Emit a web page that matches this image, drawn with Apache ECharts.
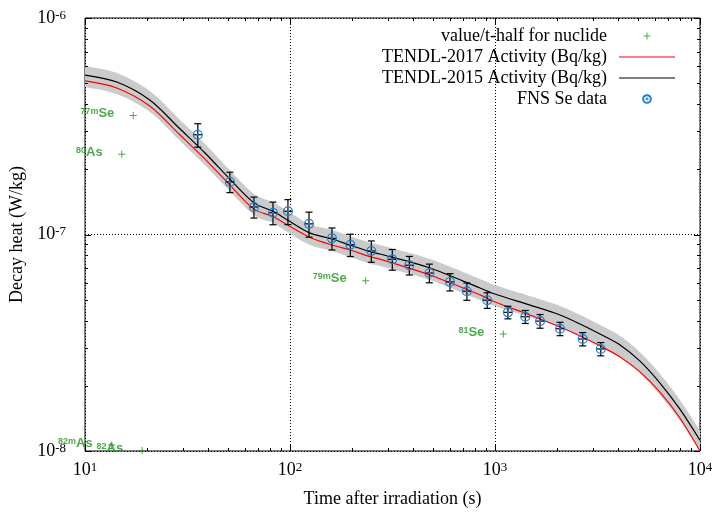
<!DOCTYPE html>
<html><head><meta charset="utf-8">
<script src="https://cdn.jsdelivr.net/npm/echarts@6/dist/echarts.min.js"></script>
<style>html,body{margin:0;padding:0;background:#fff}#c{width:714px;height:512px}</style>
</head><body><div id="c"></div>
<script>
// ---- data ----
const times = [10, 14.3, 20.7, 29.1, 38.5, 50.4, 66.7, 82.6, 96.7, 123.8, 160.2, 196.2, 248.5, 274.6, 482, 845, 1000, 1483, 2076, 2600, 3253, 4074, 5097, 6380, 7980, 10000];
const tendl2015 = [5.45e-7, 5.06e-7, 4.18e-7, 3.07e-7, 2.38e-7, 1.82e-7, 1.40e-7, 1.28e-7, 1.17e-7, 1.02e-7, 9.53e-8, 8.94e-8, 8.30e-8, 8.13e-8, 7.00e-8, 5.66e-8, 5.31e-8, 4.72e-8, 4.25e-8, 3.86e-8, 3.47e-8, 3.09e-8, 2.60e-8, 2.06e-8, 1.56e-8, 1.12e-8];
const tendl2015Upper = [6.00e-7, 5.57e-7, 4.60e-7, 3.38e-7, 2.62e-7, 2.00e-7, 1.54e-7, 1.41e-7, 1.29e-7, 1.12e-7, 1.05e-7, 9.83e-8, 9.13e-8, 8.94e-8, 7.70e-8, 6.23e-8, 5.84e-8, 5.19e-8, 4.68e-8, 4.25e-8, 3.82e-8, 3.40e-8, 2.86e-8, 2.27e-8, 1.72e-8, 1.24e-8];
const tendl2015Lower = [4.80e-7, 4.45e-7, 3.68e-7, 2.70e-7, 2.09e-7, 1.60e-7, 1.23e-7, 1.13e-7, 1.03e-7, 8.98e-8, 8.39e-8, 7.87e-8, 7.30e-8, 7.15e-8, 6.16e-8, 4.98e-8, 4.67e-8, 4.15e-8, 3.74e-8, 3.40e-8, 3.05e-8, 2.72e-8, 2.29e-8, 1.81e-8, 1.38e-8, 9.9e-9];
const tendl2017 = [5.12e-7, 4.75e-7, 3.92e-7, 2.88e-7, 2.23e-7, 1.71e-7, 1.31e-7, 1.21e-7, 1.11e-7, 9.74e-8, 8.94e-8, 8.48e-8, 7.87e-8, 7.70e-8, 6.50e-8, 5.26e-8, 4.88e-8, 4.25e-8, 3.74e-8, 3.40e-8, 3.06e-8, 2.72e-8, 2.32e-8, 1.87e-8, 1.42e-8, 1.00e-8];

const fnsTimes  = [35.5, 50.9, 66.7, 82.6, 97.7, 123.8, 160.2, 196.9, 249.3, 315.5, 382, 478.6, 603, 729, 916, 1156, 1405, 1659, 2076, 2678, 3280];
const fnsValues = [2.89e-7, 1.75e-7, 1.34e-7, 1.26e-7, 1.28e-7, 1.12e-7, 9.60e-8, 8.97e-8, 8.39e-8, 7.68e-8, 7.21e-8, 6.64e-8, 6.04e-8, 5.47e-8, 4.97e-8, 4.37e-8, 4.17e-8, 3.98e-8, 3.67e-8, 3.29e-8, 2.96e-8];
const fnsErrors = [3.58e-8, 1.89e-8, 1.49e-8, 1.51e-8, 1.69e-8, 1.48e-8, 1.12e-8, 1.06e-8, 9.46e-9, 8.42e-9, 7.11e-9, 6.57e-9, 5.53e-9, 5.03e-9, 4.12e-9, 2.92e-9, 2.88e-9, 2.90e-9, 2.61e-9, 2.32e-9, 2.09e-9];

const nuclideTimes  = [13.5, 15.1, 17.2, 19.0, 234, 1098];
const nuclideValues = [1.065e-8, 2.35e-7, 3.55e-7, 1.005e-8, 6.12e-8, 3.47e-8];
const nuclideMass   = ['82m', '80', '77m', '82', '79m', '81'];
const nuclideElem   = ['As', 'As', 'Se', 'As', 'Se', 'Se'];

const xMajorTicks = [10, 100, 1000, 10000];
const xTickExponents = ['1', '2', '3', '4'];
const xMinorTicks = [20, 30, 40, 50, 60, 70, 80, 90, 200, 300, 400, 500, 600, 700, 800, 900, 2000, 3000, 4000, 5000, 6000, 7000, 8000, 9000];
const yMajorTicks = [1e-8, 1e-7, 1e-6];
const yTickExponents = ['-8', '-7', '-6'];
const yMinorTicks = [2e-8, 3e-8, 4e-8, 5e-8, 6e-8, 7e-8, 8e-8, 9e-8, 2e-7, 3e-7, 4e-7, 5e-7, 6e-7, 7e-7, 8e-7, 9e-7];

const seriesNames = ['value/t-half for nuclide', 'TENDL-2017 Activity (Bq/kg)', 'TENDL-2015 Activity (Bq/kg)', 'FNS Se data'];
const xTitle = 'Time after irradiation (s)';
const yTitle = 'Decay heat (W/kg)';

// ---- styling ----
const X_MIN = 10, X_MAX = 10000, Y_MIN = 1e-8, Y_MAX = 1e-6;
const SERIF = 'Liberation Serif';
const SANS = 'Liberation Sans';
const GREEN = '#1f941f';
const BLUE = '#1f7fd0';
const RED = '#ff0000';

function labelFmt(ticks, exps) {
  return function (v) {
    let idx = 0, best = Infinity;
    ticks.forEach((t, i) => { const d = Math.abs(Math.log10(t) - Math.log10(v)); if (d < best) { best = d; idx = i; } });
    return '{b|10}{s|' + exps[idx] + '}';
  };
}
const tickRich = {
  b: { fontFamily: SERIF, fontSize: 18, lineHeight: 18, verticalAlign: 'bottom', color: '#000' },
  s: { fontFamily: SERIF, fontSize: 13, lineHeight: 13, padding: [0, 0, 11, 0], verticalAlign: 'top', color: '#000' }
};

function tickSeries(values, isX, len) {
  return {
    type: 'custom', silent: true, z: 6, clip: false,
    data: values.map(v => isX ? [v, Y_MIN] : [X_MIN, v]),
    encode: { x: 0, y: 1 },
    renderItem: function (params, api) {
      const st = { stroke: '#000', lineWidth: 1 };
      if (isX) {
        const v = api.value(0);
        const pb = api.coord([v, Y_MIN]), pt = api.coord([v, Y_MAX]);
        const x = Math.round(pb[0]) + 0.5;
        return { type: 'group', children: [
          { type: 'line', shape: { x1: x, y1: pb[1], x2: x, y2: pb[1] - len }, style: st },
          { type: 'line', shape: { x1: x, y1: pt[1], x2: x, y2: pt[1] + len }, style: st }
        ] };
      } else {
        const v = api.value(1);
        const pl = api.coord([X_MIN, v]), pr = api.coord([X_MAX, v]);
        const y = Math.round(pl[1]) + 0.5;
        return { type: 'group', children: [
          { type: 'line', shape: { x1: pl[0], y1: y, x2: pl[0] + len, y2: y }, style: st },
          { type: 'line', shape: { x1: pr[0], y1: y, x2: pr[0] - len, y2: y }, style: st }
        ] };
      }
    }
  };
}

// Catmull-Rom resampling of pixel points (rendering only)
function smoothPts(pts, n) {
  const out = [];
  for (let i = 0; i < pts.length - 1; i++) {
    const p0 = pts[Math.max(i - 1, 0)], p1 = pts[i], p2 = pts[i + 1], p3 = pts[Math.min(i + 2, pts.length - 1)];
    for (let k = 0; k < n; k++) {
      const t = k / n, t2 = t * t, t3 = t2 * t;
      const f = (a, b, c, d) => 0.5 * ((2 * b) + (-a + c) * t + (2 * a - 5 * b + 4 * c - d) * t2 + (-a + 3 * b - 3 * c + d) * t3);
      out.push([f(p0[0], p1[0], p2[0], p3[0]), f(p0[1], p1[1], p2[1], p3[1])]);
    }
  }
  out.push(pts[pts.length - 1]);
  return out;
}

const plusPath = 'path://M-1.5 -1.5L-1.5 -1.5M8.5 8.5L8.5 8.5M0 3H7V4H0Z M3 0H4V7H3Z';
const circDotPath = 'path://M-6.5,-6.5L-6.5,-6.5M6.5,6.5L6.5,6.5M0,-5A5,5 0 1,1 0,5A5,5 0 1,1 0,-5Z M0,-0.6A0.6,0.6 0 1,1 0,0.6A0.6,0.6 0 1,1 0,-0.6Z';
const linePath = 'path://M0 0H100V2.2H0Z';

const chart = echarts.init(document.getElementById('c'), null, { renderer: 'canvas' });
chart.setOption({
  animation: false,
  backgroundColor: '#fff',
  grid: { left: 85, right: 14, top: 18, bottom: 61, show: true, borderColor: '#000', borderWidth: 1, backgroundColor: 'transparent', outerBoundsMode: 'none', containLabel: false },
  xAxis: {
    type: 'log', logBase: 10, min: X_MIN, max: X_MAX,
    axisLine: { show: false }, axisTick: { show: false }, minorTick: { show: false },
    splitLine: { show: true, lineStyle: { color: '#000', width: 1, type: [1, 2] } },
    axisLabel: { formatter: labelFmt(xMajorTicks, xTickExponents), rich: tickRich, margin: 10 },
    name: xTitle, nameLocation: 'middle', nameGap: 37,
    nameTextStyle: { fontFamily: SERIF, fontSize: 18, color: '#000' }
  },
  yAxis: {
    type: 'log', logBase: 10, min: Y_MIN, max: Y_MAX,
    axisLine: { show: false }, axisTick: { show: false }, minorTick: { show: false },
    splitLine: { show: true, lineStyle: { color: '#000', width: 1, type: [1, 2] } },
    axisLabel: { formatter: labelFmt(yMajorTicks, yTickExponents), rich: tickRich, margin: 19 },
    name: yTitle, nameLocation: 'middle', nameGap: 57, nameRotate: 90,
    nameTextStyle: { fontFamily: SERIF, fontSize: 18, color: '#000' }
  },
  legend: {
    orient: 'vertical', align: 'right', right: 39, top: 27, padding: 0, itemGap: 3,
    itemWidth: 56, itemHeight: 10, selectedMode: false, symbolKeepAspect: true,
    textStyle: { fontFamily: SERIF, fontSize: 18, color: '#000', padding: [0, 7, 0, 0] },
    data: [
      { name: seriesNames[0], icon: plusPath },
      { name: seriesNames[1], icon: linePath },
      { name: seriesNames[2], icon: linePath },
      { name: seriesNames[3], icon: circDotPath }
    ]
  },
  series: [
    {
      type: 'custom', name: 'band', silent: true, z: 1, clip: true,
      data: times.map((t, i) => [t, tendl2015Upper[i], tendl2015Lower[i]]),
      encode: { x: 0, y: 1 },
      renderItem: function (params, api) {
        if (params.dataIndex !== 0) return null;
        const up = smoothPts(times.map((t, i) => api.coord([t, tendl2015Upper[i]])), 12);
        const lo = smoothPts(times.map((t, i) => api.coord([t, tendl2015Lower[i]])), 12).reverse();
        return { type: 'polygon', shape: { points: up.concat(lo) }, style: { fill: '#cbcbcb', stroke: null } };
      }
    },
    {
      type: 'line', name: seriesNames[1], z: 3, symbol: 'none', smooth: 0.3,
      lineStyle: { color: RED, width: 1.2 }, itemStyle: { color: RED, borderWidth: 0 },
      data: times.map((t, i) => [t, tendl2017[i]])
    },
    {
      type: 'line', name: seriesNames[2], z: 3, symbol: 'none', smooth: 0.3,
      lineStyle: { color: '#000', width: 1.2 }, itemStyle: { color: '#000', borderWidth: 0 },
      data: times.map((t, i) => [t, tendl2015[i]])
    },
    {
      type: 'custom', name: 'errors', silent: true, z: 4,
      data: fnsTimes.map((t, i) => [t, fnsValues[i], fnsValues[i] - fnsErrors[i], fnsValues[i] + fnsErrors[i]]),
      encode: { x: 0, y: 1 },
      renderItem: function (params, api) {
        const t = api.value(0), v = api.value(1), lo = api.value(2), hi = api.value(3);
        const c = api.coord([t, v]), a = api.coord([t, hi]), b = api.coord([t, lo]);
        const x = c[0];
        const st = { stroke: '#000', lineWidth: 1.2 };
        return { type: 'group', children: [
          { type: 'line', shape: { x1: x, y1: a[1], x2: x, y2: b[1] }, style: st },
          { type: 'line', shape: { x1: x - 3.5, y1: a[1], x2: x + 3.5, y2: a[1] }, style: st },
          { type: 'line', shape: { x1: x - 3.5, y1: b[1], x2: x + 3.5, y2: b[1] }, style: st },
          { type: 'line', shape: { x1: x - 4.5, y1: c[1], x2: x + 4.5, y2: c[1] }, style: st }
        ] };
      }
    },
    {
      type: 'scatter', name: seriesNames[3], z: 5, symbol: circDotPath, symbolSize: 11.5,
      itemStyle: { color: 'rgba(0,0,0,0)', borderColor: BLUE, borderWidth: 1.2, opacity: 1 },
      data: fnsTimes.map((t, i) => [t, fnsValues[i]])
    },
    {
      type: 'scatter', name: seriesNames[0], z: 5, symbol: plusPath, symbolSize: 10,
      itemStyle: { color: GREEN },
      data: nuclideTimes.map((t, i) => [t, nuclideValues[i]]),
      label: {
        show: true, position: 'left', distance: 14, offset: [0, -2],
        formatter: p => '{s|' + nuclideMass[p.dataIndex] + '}{e|' + nuclideElem[p.dataIndex] + '}',
        rich: {
          s: { fontFamily: SANS, fontSize: 9, fontWeight: 'bold', lineHeight: 9, padding: [0, 0, 7, 0], verticalAlign: 'top', color: GREEN },
          e: { fontFamily: SANS, fontSize: 13, fontWeight: 'bold', lineHeight: 13, verticalAlign: 'bottom', color: GREEN }
        }
      }
    },
    tickSeries(xMajorTicks, true, 6),
    tickSeries(xMinorTicks, true, 3),
    tickSeries(yMajorTicks, false, 6),
    tickSeries(yMinorTicks, false, 3)
  ]
});
</script></body></html>
